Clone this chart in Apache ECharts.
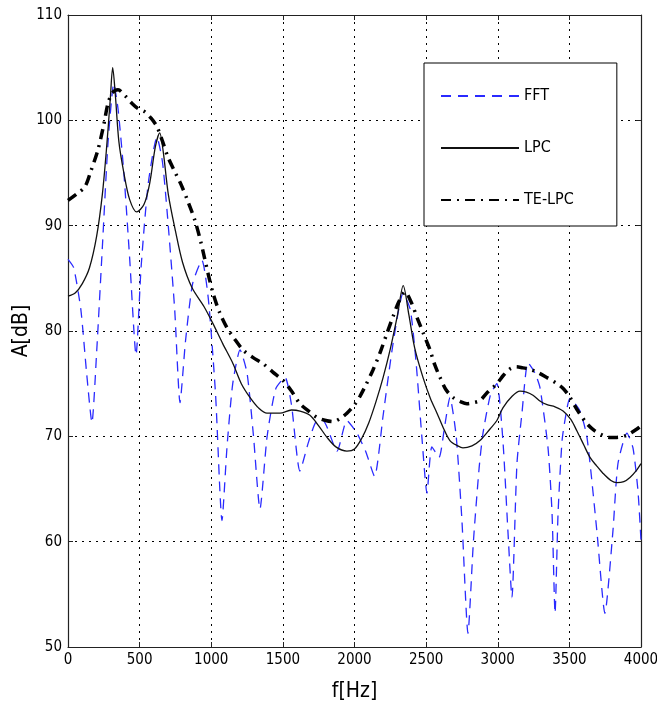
<!DOCTYPE html>
<html>
<head>
<meta charset="utf-8">
<script src="https://cdn.jsdelivr.net/npm/echarts@6/dist/echarts.min.js"></script>
<style>
html,body{margin:0;padding:0;background:#fff;}
#chart{width:657px;height:713px;}
</style>
</head>
<body>
<div id="chart"></div>
<script>
// ---- data ----
const seriesNames = ['FFT', 'LPC', 'TE-LPC'];

const fftFreq = [0,40,90,130,167,200,240,280,320,350,390,430,475,510,560,621,660,700,745,782,820,870,935,980,1030,1075,1110,1150,1201,1250,1295,1340,1390,1450,1515,1560,1619,1680,1740,1780,1878,1947,2017,2080,2140,2200,2269,2340,2390,2430,2470,2506,2540,2590,2630,2666,2710,2750,2792,2830,2870,2897,2950,2994,3036,3071,3099,3134,3169,3211,3260,3295,3351,3379,3400,3421,3449,3475,3504,3574,3623,3692,3748,3804,3839,3902,3944,3979,4000];
const fftDb   = [86.8,86.0,82,76,71.3,78,88,98,103.5,101,95,87,77.7,86,94,98.4,96,90,82,73.2,79,84.5,86.7,83,74,62.0,69,75,78.2,76,70,63.1,70,74.5,75.6,73,66.7,69.5,71.5,71.5,68.6,71.5,70.3,68.5,66.2,72,78.8,83.6,82,77,70,64.6,69,68,71,73.7,70,62,51.3,60,67,70.3,74,75.0,69.6,61,54.7,67.4,72.2,77.0,76,74.6,68.9,62.7,53.2,62.7,69.6,72,73.6,72.4,69.9,61,53.2,61,67.4,70.3,68.9,64.8,60.1];

const lpcFreq = [0,50,100,150,200,240,270,295,312,330,355,390,430,480,530,570,610,640,665,700,750,800,866,950,1012,1080,1152,1210,1270,1330,1389,1480,1560,1620,1689,1750,1808,1870,1947,2000,2050,2100,2150,2200,2250,2300,2340,2380,2420,2478,2530,2576,2620,2666,2720,2757,2820,2876,2946,2994,3036,3100,3155,3200,3246,3300,3344,3400,3456,3510,3553,3600,3644,3690,3734,3790,3832,3880,3923,3970,4000];
const lpcDb   = [83.3,83.6,84.5,86.0,89.0,93,97.5,102,105,102.5,98,95,92.5,91.3,92,94,97.5,98.8,97,93,89.5,86.5,84.1,82.3,80.7,78.8,76.9,75,73.7,72.7,72.2,72.2,72.5,72.4,72.0,71,69.9,69.0,68.6,68.8,69.8,71.3,73.3,75.6,78.3,81.5,84.3,81.5,78.4,75.6,73.6,72.2,70.8,69.6,69.1,68.9,69.1,69.6,70.7,71.5,72.7,73.8,74.3,74.2,73.9,73.3,73.0,72.8,72.4,71.6,70.5,69.2,68.0,67.2,66.5,65.8,65.6,65.7,66.1,66.8,67.4];

const teFreq = [0,60,118,160,209,250,279,310,349,400,447,490,537,580,621,660,698,750,796,840,886,930,977,1012,1060,1110,1160,1222,1290,1361,1430,1501,1560,1619,1680,1738,1800,1850,1900,1947,2000,2038,2080,2129,2180,2227,2270,2310,2353,2400,2436,2480,2527,2560,2597,2640,2687,2740,2785,2830,2876,2930,2994,3040,3085,3130,3176,3220,3274,3340,3414,3460,3504,3560,3623,3680,3734,3780,3832,3900,3972,4000];
const teDb   = [92.4,93,93.7,95.2,97.2,99.6,101.6,102.6,102.9,102.3,101.6,101.1,100.8,100.2,99.4,98,96.5,95,93.7,92.2,90.5,88.3,85.5,83.6,81.7,80.3,79.3,78.2,77.5,76.9,76.1,75.3,74.3,73.1,72.4,71.8,71.5,71.4,71.7,72.2,73.0,73.8,74.9,76.3,78.0,79.8,81.4,82.8,83.7,82.6,81.3,79.8,78.2,76.8,75.6,74.4,73.7,73.3,73.1,73.2,73.4,74.2,75.0,75.8,76.4,76.6,76.5,76.4,76.1,75.6,75.0,74.5,73.7,72.4,71.2,70.5,70.1,69.9,69.9,70.1,70.7,71.0];

const xTicks = [0, 500, 1000, 1500, 2000, 2500, 3000, 3500, 4000];
const yTicks = [50, 60, 70, 80, 90, 100, 110];

// ---- chart ----
const pairs = (xs, ys) => xs.map((x, i) => [x, ys[i]]);
const FONT = '"Liberation Sans Narrow", "DejaVu Sans Condensed", "Liberation Sans", Arial, sans-serif';

const chart = echarts.init(document.getElementById('chart'), null, {renderer: 'canvas'});

const baseX = {
  type: 'value', min: xTicks[0], max: xTicks[xTicks.length - 1],
  interval: xTicks[1] - xTicks[0]
};
const baseY = {
  type: 'value', min: yTicks[0], max: yTicks[yTicks.length - 1],
  interval: yTicks[1] - yTicks[0]
};
const plain = v => String(v);

chart.setOption({
  animation: false,
  backgroundColor: '#fff',
  grid: {left: 68, right: 16, top: 15, bottom: 66, containLabel: false, outerBoundsMode: 'none'},
  legend: {
    orient: 'vertical',
    left: 424, top: 63,
    itemWidth: 78, itemHeight: 14, itemGap: 36,
    padding: [25, 43, 18, 16],
    borderColor: '#000', borderWidth: 1,
    backgroundColor: '#fff',
    itemStyle: {opacity: 0},
    textStyle: {fontFamily: FONT, fontSize: 16, color: '#000'},
    data: seriesNames.map(n => ({name: n}))
  },
  xAxis: [
    Object.assign({}, baseX, {
      position: 'bottom',
      name: 'f[Hz]', nameLocation: 'middle', nameGap: 34, nameMoveOverlap: false,
      nameTextStyle: {fontFamily: FONT, fontSize: 21, color: '#000'},
      axisLine: {show: true, onZero: false, lineStyle: {color: '#222', width: 1.2}},
      axisTick: {show: true, inside: true, length: 5, lineStyle: {color: '#222'}},
      axisLabel: {fontFamily: FONT, fontSize: 15, color: '#000', margin: 6, formatter: plain},
      splitLine: {show: true, lineStyle: {color: '#000', type: [2, 5], width: 1}}
    }),
    Object.assign({}, baseX, {
      position: 'top',
      axisLine: {show: true, onZero: false, lineStyle: {color: '#222', width: 1.2}},
      axisTick: {show: true, inside: true, length: 5, lineStyle: {color: '#222'}},
      axisLabel: {show: false},
      splitLine: {show: false}
    })
  ],
  yAxis: [
    Object.assign({}, baseY, {
      position: 'left',
      name: 'A[dB]', nameLocation: 'middle', nameGap: 36, nameRotate: 90, nameMoveOverlap: false,
      nameTextStyle: {fontFamily: FONT, fontSize: 21, color: '#000'},
      axisLine: {show: true, onZero: false, lineStyle: {color: '#222', width: 1.2}},
      axisTick: {show: true, inside: true, length: 5, lineStyle: {color: '#222'}},
      axisLabel: {fontFamily: FONT, fontSize: 15, color: '#000', margin: 6, formatter: plain},
      splitLine: {show: true, lineStyle: {color: '#000', type: [2, 5], width: 1}}
    }),
    Object.assign({}, baseY, {
      position: 'right',
      axisLine: {show: true, onZero: false, lineStyle: {color: '#222', width: 1.2}},
      axisTick: {show: true, inside: true, length: 5, lineStyle: {color: '#222'}},
      axisLabel: {show: false},
      splitLine: {show: false}
    })
  ],
  series: [
    {
      name: seriesNames[0], type: 'line', data: pairs(fftFreq, fftDb),
      xAxisIndex: 0, yAxisIndex: 0,
      symbol: 'none', smooth: 0.2,
      lineStyle: {color: '#2a2aff', width: 1.3, type: [10, 7]},
      itemStyle: {color: '#2a2aff'}, z: 3
    },
    {
      name: seriesNames[1], type: 'line', data: pairs(lpcFreq, lpcDb),
      xAxisIndex: 0, yAxisIndex: 0,
      symbol: 'none', smooth: 0.3,
      lineStyle: {color: '#111', width: 1.3, type: 'solid'},
      itemStyle: {color: '#111'}, z: 4
    },
    {
      name: seriesNames[2], type: 'line', data: pairs(teFreq, teDb),
      xAxisIndex: 0, yAxisIndex: 0,
      symbol: 'none', smooth: 0.3,
      lineStyle: {color: '#000', width: 3.5, type: [10, 6, 2, 6]},
      itemStyle: {color: '#000'}, z: 5
    }
  ]
});
</script>
</body>
</html>
